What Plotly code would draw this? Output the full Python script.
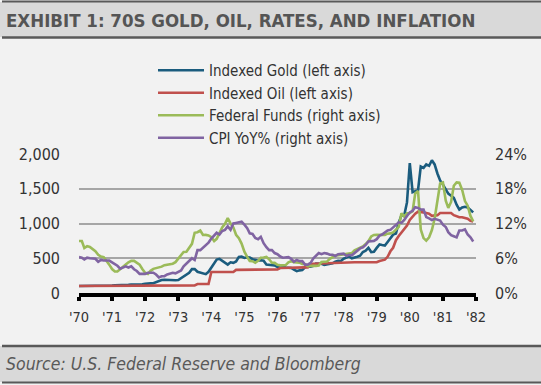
import plotly.graph_objects as go

# ---------------- data (monthly, Jan 1970 - Dec 1981) ----------------
years = list(range(1970, 1982))
months = [f"{y}-{m:02d}-01" for y in years for m in range(1, 13)]

gold_index = [
    100, 100, 100, 102, 101, 101, 101, 101, 103, 107, 107, 107,
    108, 111, 111, 111, 116, 115, 117, 122, 120, 121, 123, 124,
    131, 138, 138, 140, 156, 177, 188, 191, 187, 185, 180, 183,
    186, 212, 241, 259, 291, 343, 343, 305, 294, 286, 271, 305,
    369, 429, 481, 492, 467, 440, 409, 442, 434, 454, 519, 525,
    504, 513, 509, 486, 477, 469, 471, 466, 411, 409, 406, 397,
    374, 374, 377, 366, 360, 360, 337, 314, 326, 331, 371, 380,
    377, 389, 423, 426, 420, 403, 411, 414, 426, 451, 463, 460,
    494, 509, 526, 500, 506, 523, 537, 589, 609, 649, 589, 594,
    649, 700, 691, 683, 734, 797, 840, 857, 1014, 1117, 1120, 1303,
    1870, 1450, 1460, 1480, 1820, 1800, 1850, 1830, 1910, 1850, 1720, 1620,
    1560, 1480, 1430, 1400, 1370, 1270, 1200, 1230, 1240, 1230, 1200, 1160,
]

oil_index = [
    100, 100, 100, 100, 100, 100, 100, 100, 100, 100, 100, 100,
    106, 106, 106, 106, 106, 106, 106, 106, 106, 106, 106, 106,
    106, 106, 106, 106, 106, 106, 106, 106, 106, 106, 106, 106,
    106, 106, 106, 106, 106, 110, 110, 129, 129, 129, 129, 129,
    302, 302, 302, 302, 302, 302, 302, 302, 302, 333, 333, 333,
    333, 333, 333, 333, 333, 333, 333, 333, 333, 333, 333, 333,
    340, 359, 361, 363, 363, 365, 366, 367, 367, 367, 368, 368,
    418, 420, 422, 424, 426, 428, 430, 432, 434, 436, 438, 440,
    443, 443, 443, 443, 443, 443, 443, 443, 443, 443, 443, 443,
    443, 460, 470, 480, 520, 600, 650, 760, 820, 870, 930, 970,
    1050, 1100, 1140, 1170, 1170, 1160, 1150, 1140, 1110, 1110, 1120, 1150,
    1150, 1150, 1150, 1150, 1120, 1100, 1090, 1090, 1080, 1070, 1040, 1030,
]

fed_funds = [
    8.98, 8.98, 7.76, 8.10, 7.95, 7.61, 7.21, 6.61, 6.29, 6.20, 5.60, 4.90,
    4.14, 3.72, 3.71, 4.16, 4.63, 4.91, 5.31, 5.57, 5.55, 5.20, 4.91, 4.14,
    3.50, 3.29, 3.83, 4.17, 4.27, 4.46, 4.55, 4.80, 4.87, 5.04, 5.06, 5.33,
    5.94, 6.58, 7.09, 7.12, 7.84, 8.49, 10.40, 10.50, 10.78, 10.01, 10.03, 9.95,
    9.65, 8.97, 9.35, 10.51, 11.31, 11.93, 12.92, 12.01, 11.34, 10.06, 9.45, 8.53,
    7.13, 6.24, 5.54, 5.49, 5.22, 5.55, 6.10, 6.14, 6.24, 5.82, 5.22, 5.20,
    4.87, 4.77, 4.84, 4.82, 5.29, 5.48, 5.31, 5.29, 5.25, 5.02, 4.95, 4.65,
    4.61, 4.68, 4.69, 4.73, 5.35, 5.39, 5.42, 5.90, 6.14, 6.47, 6.51, 6.56,
    6.70, 6.78, 6.79, 6.89, 7.36, 7.60, 7.81, 8.04, 8.45, 8.96, 9.76, 10.03,
    10.07, 10.06, 10.09, 10.01, 10.24, 10.29, 10.47, 10.94, 11.43, 13.77, 13.18, 13.78,
    13.82, 14.13, 17.19, 17.61, 10.98, 9.47, 9.03, 9.61, 10.87, 12.81, 15.85, 18.90,
    19.08, 15.93, 14.70, 15.72, 18.52, 19.10, 19.04, 17.82, 15.87, 15.08, 13.31, 12.37,
]

cpi_yoy = [
    6.2, 6.1, 5.8, 6.1, 6.0, 6.0, 5.9, 5.4, 5.7, 5.6, 5.6, 5.6,
    5.3, 5.0, 4.7, 4.2, 4.4, 4.6, 4.4, 4.6, 4.1, 3.8, 3.3, 3.3,
    3.3, 3.5, 3.5, 3.5, 3.2, 2.7, 2.9, 2.9, 3.2, 3.4, 3.5, 3.4,
    3.6, 3.9, 4.6, 5.1, 5.5, 6.0, 5.7, 7.4, 7.4, 7.8, 8.3, 8.7,
    9.4, 10.0, 10.4, 10.1, 10.7, 10.9, 11.5, 10.9, 12.0, 12.1, 12.2, 12.3,
    11.8, 11.2, 10.3, 10.2, 9.5, 9.3, 9.7, 8.6, 7.9, 7.4, 7.4, 6.9,
    6.7, 6.3, 6.1, 6.1, 6.2, 5.9, 5.4, 5.7, 5.5, 5.5, 4.9, 4.9,
    5.2, 6.0, 6.4, 6.9, 6.7, 6.9, 6.8, 6.6, 6.6, 6.4, 6.7, 6.7,
    6.8, 6.4, 6.6, 6.5, 6.9, 7.4, 7.7, 7.9, 8.3, 8.9, 8.9, 9.0,
    9.3, 9.9, 10.1, 10.5, 10.8, 10.9, 11.3, 11.8, 12.2, 12.1, 12.6, 13.3,
    13.9, 14.2, 14.8, 14.7, 14.4, 14.4, 13.1, 12.9, 12.6, 12.8, 12.6, 12.5,
    11.8, 11.4, 10.5, 10.0, 9.8, 9.6, 10.8, 10.8, 11.0, 10.1, 9.6, 8.9,
]

tick_dates = [f"{y}-01-01" for y in range(1970, 1983)]
tick_labels = ["'70", "'71", "'72", "'73", "'74", "'75", "'76", "'77",
               "'78", "'79", "'80", "'81", "'82"]
left_ticks = [0, 500, 1000, 1500, 2000]
left_labels = ["0", "500", "1,000", "1,500", "2,000"]
right_ticks = [0, 6, 12, 18, 24]
right_labels = ["0%", "6%", "12%", "18%", "24%"]

series_names = ["Indexed Gold (left axis)", "Indexed Oil (left axis)",
                "Federal Funds (right axis)", "CPI YoY% (right axis)"]

# ---------------- layout geometry (pixels) ----------------
W, H = 541, 385
L, R, T, B = 79, 476, 154, 293          # plot area
FONT = "DejaVu Sans Condensed, Liberation Sans Narrow, sans-serif"


def px(x):
    return (x - L) / (R - L)


def py(y):
    return (B - y) / (B - T)


fig = go.Figure()
fig.add_trace(go.Scatter(x=months, y=gold_index, name=series_names[0], mode="lines",
                         line=dict(color="#1b5c7e", width=2.6)))
fig.add_trace(go.Scatter(x=months, y=oil_index, name=series_names[1], mode="lines",
                         line=dict(color="#c0504d", width=2.6)))
fig.add_trace(go.Scatter(x=months, y=fed_funds, name=series_names[2], mode="lines",
                         yaxis="y2", line=dict(color="#9bbb59", width=2.6)))
fig.add_trace(go.Scatter(x=months, y=cpi_yoy, name=series_names[3], mode="lines",
                         yaxis="y2", line=dict(color="#8064a2", width=2.6)))

shapes = [
    # title band
    dict(type="rect", xref="paper", yref="paper", x0=px(0), x1=px(W), y0=py(37), y1=py(2),
         fillcolor="#d9d9d9", line=dict(width=0), layer="below"),
    dict(type="line", xref="paper", yref="paper", x0=px(2), x1=px(W), y0=py(1.5), y1=py(1.5),
         line=dict(color="#595959", width=2)),
    dict(type="line", xref="paper", yref="paper", x0=px(2), x1=px(W), y0=py(37.5), y1=py(37.5),
         line=dict(color="#595959", width=2.5)),
    # source band
    dict(type="rect", xref="paper", yref="paper", x0=px(0), x1=px(W), y0=py(382), y1=py(346),
         fillcolor="#d9d9d9", line=dict(width=0), layer="below"),
    dict(type="line", xref="paper", yref="paper", x0=px(2), x1=px(W), y0=py(346), y1=py(346),
         line=dict(color="#595959", width=2.5)),
    dict(type="line", xref="paper", yref="paper", x0=px(2), x1=px(W), y0=py(382.5), y1=py(382.5),
         line=dict(color="#595959", width=2)),
]

annotations = [
    dict(text="<b>EXHIBIT 1: 70S GOLD, OIL, RATES, AND INFLATION</b>", xref="paper", yref="paper",
         x=px(4), y=py(20), xanchor="left", yanchor="middle", showarrow=False,
         font=dict(family=FONT, size=18.5, color="#555555")),
    dict(text="<i>Source: U.S. Federal Reserve and Bloomberg</i>", xref="paper", yref="paper",
         x=px(4), y=py(364), xanchor="left", yanchor="middle", showarrow=False,
         font=dict(family=FONT, size=17.5, color="#595959")),
]

fig.update_layout(
    width=W, height=H,
    margin=dict(l=L, r=W - R, t=T, b=H - B, pad=0),
    paper_bgcolor="#f2f2f2", plot_bgcolor="#f2f2f2",
    font=dict(family=FONT, color="#333333", size=15),
    showlegend=True,
    legend=dict(x=px(153), y=py(54), xanchor="left", yanchor="top",
                bgcolor="rgba(0,0,0,0)", font=dict(family=FONT, size=15, color="#333333"),
                itemwidth=46, tracegroupgap=0),
    xaxis=dict(type="date", range=["1970-01-01", "1982-01-01"], tickvals=tick_dates,
               ticktext=tick_labels, ticks="outside", ticklen=4, tickwidth=4,
               tickcolor="#000000", showline=True, linecolor="#000000", linewidth=4,
               showgrid=False, zeroline=False, ticklabelstandoff=4,
               tickfont=dict(family=FONT, size=14.5, color="#333333")),
    yaxis=dict(range=[0, 2000], tickvals=left_ticks, ticktext=left_labels,
               showgrid=True, gridcolor="#a6a6a6", gridwidth=1.5, zeroline=False,
               showline=False, ticks="", ticklabelstandoff=18,
               tickfont=dict(family=FONT, size=16, color="#333333")),
    yaxis2=dict(range=[0, 24], tickvals=right_ticks, ticktext=right_labels,
                overlaying="y", side="right", showgrid=False, zeroline=False,
                showline=False, ticks="", ticklabelstandoff=18,
                tickfont=dict(family=FONT, size=16, color="#333333")),
    shapes=shapes,
    annotations=annotations,
)

fig.write_html("out.html", config={"displayModeBar": False},
               post_script="document.body.style.margin='0';")
